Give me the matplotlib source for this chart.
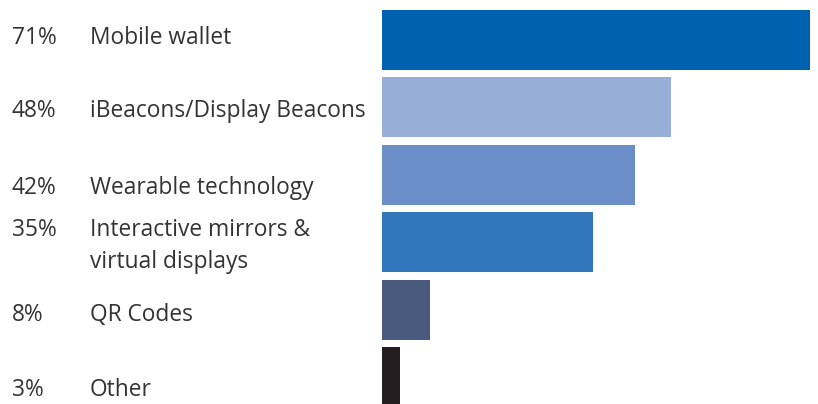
import matplotlib
matplotlib.use("Agg")
import matplotlib.pyplot as plt
from matplotlib.transforms import blended_transform_factory

categories = ["Mobile wallet", "iBeacons/Display Beacons", "Wearable technology",
              "Interactive mirrors &\nvirtual displays", "QR Codes", "Other"]
values = [71, 48, 42, 35, 8, 3]
pct_labels = ["71%", "48%", "42%", "35%", "8%", "3%"]
colors = ["#0061B0", "#97AED9", "#6B8DC8", "#3276BC", "#4A5A7E", "#231F20"]
text_offsets = [-0.03, 0.06, 0.19, 0.05, 0.085, 0.19]

W, H = 818, 404
fig = plt.figure(figsize=(W / 100, H / 100), dpi=100)
ax = fig.add_axes([382 / W, 0, (W - 382) / W, 1])
ax.set_xlim(0, (W - 382) / (428 / 71))
step = 67.4
ax.set_ylim((H - 40) / step, -40 / step)
ax.axis("off")

ypos = list(range(len(values)))
ax.barh(ypos, values, height=0.89, color=colors, linewidth=0)

trans = blended_transform_factory(fig.transFigure, ax.transData)
font = "Open Sans"
fs = 16.4
ls = 1.45
for i, (p, c) in enumerate(zip(pct_labels, categories)):
    y = ypos[i] + text_offsets[i]
    nlines = c.count("\n")
    ax.text(12 / W, y, p + "\n " * nlines, transform=trans, ha="left", va="center",
            fontsize=fs, color="#333333", family=font, linespacing=ls)
    ax.text(90 / W, y, c, transform=trans, ha="left", va="center",
            fontsize=fs, color="#333333", family=font, linespacing=ls)

fig.savefig("out.png", dpi=100)
